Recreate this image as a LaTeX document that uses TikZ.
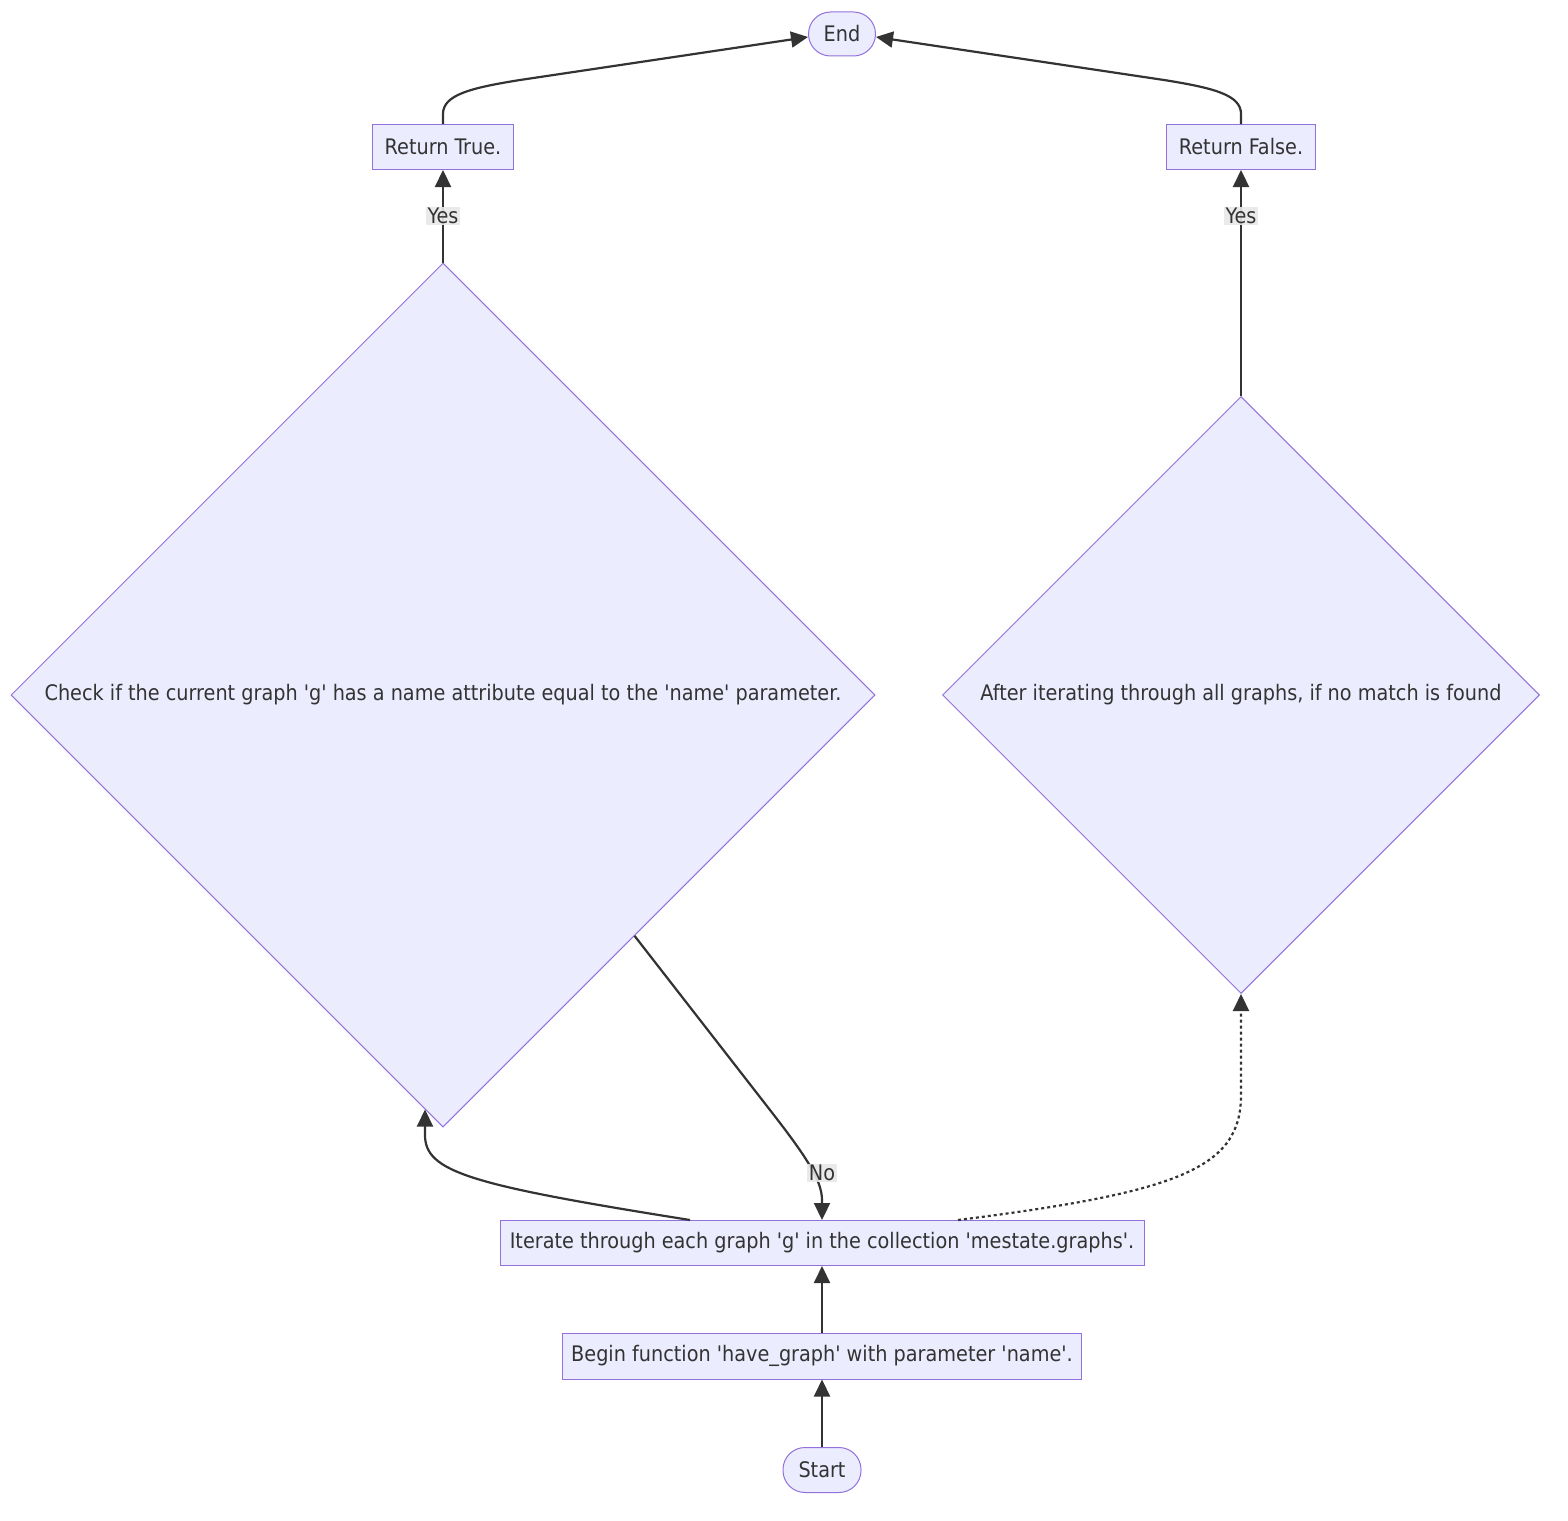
\documentclass[tikz,border=0pt]{standalone}
\usepackage{fontspec}
\setmainfont{DejaVu Sans Condensed}[Ligatures=TeXOff]
\usetikzlibrary{shapes.geometric,arrows.meta,calc}
\definecolor{nodefill}{HTML}{ECECFF}
\definecolor{nodeline}{HTML}{9370DB}
\definecolor{edgecol}{HTML}{333333}
\definecolor{lblbg}{HTML}{E8E8E8}
\begin{document}
\begin{tikzpicture}[x=1pt,y=-1pt,
  every node/.style={font=\fontsize{21.4}{25}\selectfont, text=edgecol},
  box/.style={draw=nodeline, fill=nodefill, line width=1pt, rectangle, minimum height=45pt, inner sep=0pt},
  pill/.style={box, rounded corners=22pt},
  decision/.style={draw=nodeline, fill=nodefill, line width=1pt, diamond, inner sep=0pt, aspect=1},
  edge/.style={draw=edgecol, line width=2.2pt, -{Triangle[length=17pt,width=16pt]}},
  dotedge/.style={edge, dash pattern=on 3pt off 3pt},
  lbl/.style={fill=lblbg, inner sep=1.5pt, fill opacity=0.9, text opacity=1}
]
\useasboundingbox (0,0) rectangle (1568,1520);

\node[pill, minimum width=67pt, minimum height=44pt] (endn) at (842,34) {End};
\node[box, minimum width=141pt] (rt) at (443,147) {Return True.};
\node[box, minimum width=149pt] (rf) at (1241,147) {Return False.};
\node[decision, minimum width=864pt, minimum height=864pt] (cd) at (443,695) {Check if the current graph 'g' has a name attribute equal to the 'name' parameter.};
\node[decision, minimum width=597pt, minimum height=597pt] (dr) at (1241,695) {After iterating through all graphs, if no match is found};
\node[box, minimum width=644pt] (it) at (822,1243) {Iterate through each graph 'g' in the collection 'mestate.graphs'.};
\node[box, minimum width=519pt, minimum height=46pt] (bg) at (822,1356) {Begin function 'have\_graph' with parameter 'name'.};
\node[pill, minimum width=78pt] (st) at (822,1470) {Start};

% Start -> Begin -> Iterate
\draw[edge] (st.north) -- (bg.south);
\draw[edge] (bg.north) -- (it.south);

% Iterate -> check diamond
\draw[edge] ($(it.north)+(-132,0)$) .. controls (470,1185) and (425,1172) .. (425,1135) -- ($(cd.south)+(-18,-18)$);

% Check diamond -> Iterate (No)
\draw[edge] ($(cd.east)!0.557!(cd.south)$) -- (770,1110) .. controls (805,1155) and (822,1180) .. (822,1200) -- (it.north);
\node[lbl] (lno) at (822,1173) {No};

% Iterate -> after diamond (dotted)
\draw[dotedge] ($(it.north)+(136,0)$) .. controls (1180,1192) and (1241,1168) .. (1241,1095) -- (dr.south);

% Yes edges
\draw[edge] (cd.north) -- (rt.south);
\node[lbl] (ly1) at (443,216) {Yes};
\draw[edge] (dr.north) -- (rf.south);
\node[lbl] (ly2) at (1241,216) {Yes};

% Returns -> End
\draw[edge] (rt.north) -- (443,114) .. controls (443,95) and (470,88) .. (520,80) -- ($(endn.west)+(0,3)$);
\draw[edge] (rf.north) -- (1241,114) .. controls (1241,95) and (1214,88) .. (1164,80) -- ($(endn.east)+(0,3)$);
\end{tikzpicture}
\end{document}
